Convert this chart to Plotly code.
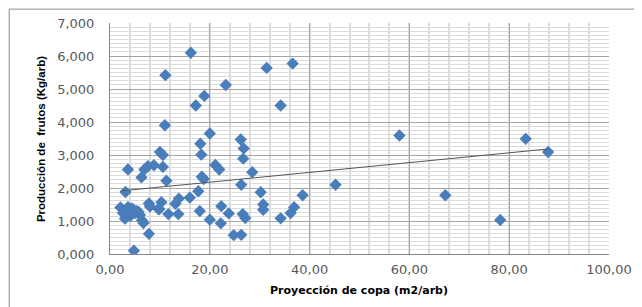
import numpy as np
import plotly.graph_objects as go

# Proyección de copa (m2/arb)
copa = [16.2, 11.1, 31.4, 36.6, 23.2, 18.9, 17.2, 34.2, 11.0, 20.0,
        58.0, 83.3, 87.8, 26.2, 26.8, 18.1, 18.3, 10.0, 10.6, 26.7,
        10.6, 8.8, 7.6, 6.9, 3.6, 6.3, 21.1, 21.9, 28.5, 11.3,
        18.4, 18.8, 26.3, 45.2, 3.1, 17.7, 16.0, 13.8, 30.2, 38.6,
        67.2, 10.3, 7.8, 8.0, 13.1, 22.3, 30.7, 36.9, 2.1, 3.6,
        4.7, 2.6, 3.0, 4.1, 5.7, 9.9, 11.7, 13.7, 18.0, 23.8,
        26.6, 27.1, 30.7, 36.2, 34.2, 20.0, 22.2, 6.4, 6.7, 78.2,
        7.8, 24.8, 26.3, 4.8, 5.0, 5.3, 3.3, 6.0, 4.4, 9.7]
# Producción de frutos (Kg/arb)
frutos = [6100, 5420, 5640, 5770, 5120, 4790, 4500, 4500, 3900, 3650,
          3590, 3490, 3090, 3470, 3200, 3340, 3010, 3090, 3000, 2890,
          2640, 2690, 2660, 2560, 2560, 2320, 2700, 2560, 2480, 2220,
          2340, 2270, 2100, 2100, 1880, 1900, 1710, 1680, 1870, 1780,
          1780, 1570, 1530, 1440, 1520, 1450, 1500, 1420, 1410, 1420,
          1340, 1240, 1070, 1160, 1280, 1360, 1210, 1210, 1300, 1230,
          1210, 1090, 1340, 1240, 1080, 1040, 930, 1020, 940, 1030,
          610, 570, 580, 100, 1240, 1300, 1200, 1180, 1380, 1360]

x_ticks = [0, 20, 40, 60, 80, 100]
x_tick_text = ["0,00", "20,00", "40,00", "60,00", "80,00", "100,00"]
y_ticks = [0, 1000, 2000, 3000, 4000, 5000, 6000, 7000]
y_tick_text = ["0,000", "1,000", "2,000", "3,000", "4,000", "5,000", "6,000", "7,000"]

x_title = "<b>Proyección de copa (m2/arb)</b>"
y_title = "<b>Producción de  frutos (Kg/arb)</b>"

xa = np.array(copa)
ya = np.array(frutos)
slope, intercept = np.polyfit(xa, ya, 1)
tx = np.array([xa.min(), xa.max()])
ty = slope * tx + intercept

fig = go.Figure()
fig.add_trace(go.Scatter(
    x=copa, y=frutos, mode="markers",
    marker=dict(symbol="diamond", size=9.5, color="#4a7ebb",
                line=dict(width=0)),
    showlegend=False, hoverinfo="x+y"))
fig.add_trace(go.Scatter(
    x=tx, y=ty, mode="lines",
    line=dict(color="#555555", width=1),
    showlegend=False, hoverinfo="skip"))

# the page body adds an 8px offset, so the figure is 8px smaller and shifted
fig.update_layout(
    width=634, height=299,
    margin=dict(l=102, r=33, t=15, b=53, autoexpand=False),
    paper_bgcolor="white", plot_bgcolor="white",
    font=dict(family="DejaVu Sans", size=13, color="#595959"),
    xaxis=dict(
        range=[0, 100], tickmode="array", tickvals=x_ticks, ticktext=x_tick_text,
        showgrid=True, gridcolor="#a6a6a6", gridwidth=1,
        minor=dict(dtick=4, tick0=0, showgrid=True, gridcolor="#dcdcdc", gridwidth=1.5),
        showline=True, linecolor="#868686", linewidth=1,
        zeroline=False, ticks="", ticklabelstandoff=3, automargin=False,
        tickfont=dict(family="DejaVu Sans", size=13, color="#595959"),
    ),
    yaxis=dict(
        range=[0, 7000], tickmode="array", tickvals=y_ticks, ticktext=y_tick_text,
        showgrid=True, gridcolor="#a6a6a6", gridwidth=1,
        minor=dict(dtick=125, tick0=0, showgrid=True, gridcolor="#dcdcdc", gridwidth=1),
        showline=True, linecolor="#868686", linewidth=1,
        zeroline=False, ticks="", ticklabelstandoff=12, automargin=False,
        tickfont=dict(family="DejaVu Sans", size=13, color="#595959"),
    ),
    annotations=[
        dict(text=x_title, xref="paper", yref="paper", x=0.499, y=-0.156,
             xanchor="center", yanchor="middle", showarrow=False,
             font=dict(family="DejaVu Sans", size=11, color="#000000")),
        dict(text=y_title, xref="paper", yref="paper", x=-0.138, y=0.498,
             xanchor="center", yanchor="middle", showarrow=False, textangle=-90,
             font=dict(family="Liberation Sans Narrow, Liberation Sans", size=11.5,
                       color="#000000")),
    ],
    shapes=[dict(type="rect", xref="paper", yref="paper",
                 x0=-0.202, x1=1.1, y0=-0.3, y1=1.06,
                 line=dict(color="#8c8c8c", width=1), fillcolor="rgba(0,0,0,0)",
                 layer="below")],
)

fig.write_html("out.html")
